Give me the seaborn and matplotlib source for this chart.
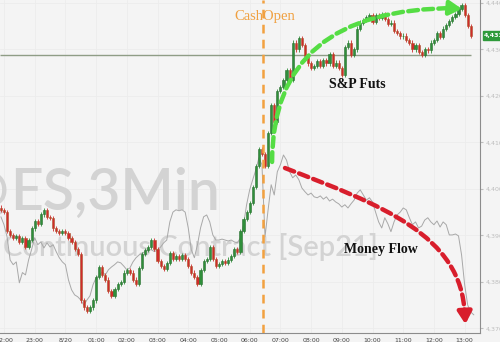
import numpy as np
import pandas as pd
import matplotlib
matplotlib.use("Agg")
import matplotlib.pyplot as plt
from matplotlib.path import Path
from matplotlib.patches import FancyArrowPatch
import seaborn as sns

# ---------------- data (hours after 22:00, 6-minute bars) ----------------
bar_start_hour = -0.1
bar_step_hour = 0.1
first_open = 4396.0
closes = [
    4395.5, 4395, 4391, 4390, 4389.5, 4389.8, 4388.5, 4389.5, 4387.5, 4389, 4391.5,
    4393, 4392.5, 4394.5, 4395.5, 4394, 4393.8, 4391.5, 4391, 4390.5, 4391,
    4390.5, 4389.5, 4388.5, 4387, 4386, 4376, 4374.5, 4373.8, 4374.5, 4376,
    4381, 4383.2, 4381.5, 4380.5, 4378, 4377, 4378.5, 4379.5, 4380, 4382,
    4382.5, 4382, 4380.5, 4379.5, 4383, 4386, 4386.8, 4387.5, 4389, 4387,
    4384.5, 4383.5, 4382.8, 4384, 4386.2, 4385, 4385.5, 4385, 4385.8, 4385,
    4383.5, 4382, 4381, 4379.5, 4382.5, 4384.5, 4385, 4387.5, 4385, 4383.5,
    4383.8, 4384.5, 4384, 4384.8, 4385.5, 4387, 4386.5, 4391, 4393.5, 4395,
    4397, 4400.5, 4405, 4408.5, 4407.5, 4405, 4412, 4418, 4414.5, 4421,
    4422, 4423.5, 4425.5, 4423.5, 4431.5, 4430, 4432.5, 4431, 4428.5, 4427,
    4426, 4426.5, 4427.5, 4426.5, 4427.8, 4427, 4429, 4426.5, 4427.2, 4426,
    4424.5, 4430.5, 4431.5, 4428.8, 4430, 4434.5, 4435.8, 4436.3, 4437, 4437.5,
    4436, 4437.5, 4436.8, 4437.6, 4436.5, 4435.5, 4435.8, 4434, 4433.5, 4432.8,
    4433, 4432, 4431.5, 4430, 4431, 4429.5, 4428.8, 4430, 4429.8, 4431.5,
    4432, 4433.5, 4432.7, 4434.5, 4435.3, 4436.2, 4437, 4437.6, 4438.8, 4439.5,
    4437.5, 4435, 4433,
]
# money flow line, plotted in price-equivalent units
money_flow = [
    4394, 4392.3, 4389.7, 4384.7, 4383.7, 4384.3, 4379.8, 4382, 4381.5, 4384.7, 4387,
    4389.5, 4388, 4388.6, 4387.3, 4388.4, 4387.5, 4388, 4386.5, 4385.2, 4384.3,
    4383.7, 4380.4, 4378.3, 4377.2, 4376.8, 4376.1, 4375, 4376.1, 4377, 4379.4,
    4380.9, 4381.3, 4382.2, 4381.5, 4382.6, 4383.2, 4383.7, 4384.3, 4384.1, 4383.4,
    4382.6, 4383, 4384.3, 4385.2, 4385.8, 4386.2, 4386.5, 4386.9, 4386.9, 4386.5,
    4386.9, 4387.5, 4388.4, 4389, 4392.9, 4395, 4395.5, 4395.3, 4395.5, 4395,
    4391.6, 4386.9, 4385.2, 4388, 4391.6, 4394, 4394.4, 4392.9, 4390.1, 4389,
    4389, 4389.2, 4389, 4388.8, 4389, 4388.6, 4388.4, 4389.5, 4392.3, 4396.6,
    4399.8, 4402, 4404.1, 4406.7, 4405.2, 4389.7, 4395.5, 4400.9, 4398.7, 4403.7,
    4405.2, 4407.3, 4406.2, 4403.7, 4402.4, 4403, 4402, 4400.2, 4399.4, 4398.7,
    4399.1, 4398.3, 4398.1, 4398.5, 4397.8, 4398.3, 4397.4, 4397.8, 4397.2, 4396.8,
    4396.1, 4396.6, 4395.9, 4396.8, 4397.6, 4399.1, 4399.8, 4398.7, 4397.6, 4398.1,
    4397.2, 4395, 4392.9, 4391.6, 4393.8, 4392.5, 4390.8, 4392.9, 4394.4, 4395,
    4395.9, 4395.5, 4393.8, 4392.3, 4392.9, 4391.6, 4392, 4393.3, 4393.8, 4392.9,
    4392.3, 4393.1, 4391.8, 4392.9, 4392.3, 4390.1, 4390.1, 4390.3, 4389.9, 4385.8,
    4379.4, 4375, 4373.5, 4372.9,
]
prior_close = 4428.8
cash_open_hour = 8.42
hour_ticks = list(range(16))
hour_labels = ["22:00", "23:00", "8/20", "01:00", "02:00", "03:00", "04:00", "05:00",
               "06:00", "07:00", "08:00", "09:00", "10:00", "11:00", "12:00", "13:00"]
price_ticks = [4370, 4380, 4390, 4400, 4410, 4420, 4430, 4440]
last_price_label = "4,433.00"

# ---------------- frame ----------------
bars = pd.DataFrame({
    "hour": bar_start_hour + bar_step_hour * np.arange(len(closes)),
    "close": closes,
})
bars["open"] = [first_open] + closes[:-1]
mf = pd.DataFrame({
    "hour": bar_start_hour + bar_step_hour * np.arange(len(money_flow)),
    "flow": money_flow,
})

sns.set_style("white")
plt.rcParams["font.family"] = ["DejaVu Sans"]

BG = "#f4f4f4"
fig = plt.figure(figsize=(5, 3.42), dpi=100, facecolor=BG)
ax = fig.add_axes([0, 9 / 342, 480 / 500, 333 / 342])
ax.set_facecolor(BG)
ax.set_xlim(-0.13, 15.5)
ax.set_ylim(4369.0, 4440.65)

# faint grid
for h in hour_ticks:
    ax.axvline(h, color="#ececec", lw=0.6, zorder=0)
for p in price_ticks:
    ax.axhline(p, color="#ececec", lw=0.6, zorder=0)

# watermarks
WM = "#d3d3d3"
ax.text(8 / 480, 1 - 210 / 333, "@", transform=ax.transAxes, ha="right", va="baseline",
        fontsize=41, color=WM, family="Lato", fontweight="semibold", zorder=0.5)
ax.text(10 / 480, 1 - 210 / 333, "ES,3Min", transform=ax.transAxes, ha="left", va="baseline",
        fontsize=41, color=WM, family="Lato", fontweight="semibold", zorder=0.5)
ax.text(3 / 480, 1 - 256 / 333, "Continuous Contract [Sep21]", transform=ax.transAxes,
        ha="left", va="baseline", fontsize=21, color=WM, family="Lato",
        fontweight="semibold", zorder=0.5)

# prior close reference line
ax.hlines(prior_close, -0.13, 15.2, color="#8f9d86", lw=1.0, zorder=1)

# money flow line
sns.lineplot(data=mf, x="hour", y="flow", ax=ax, color="#a8a8a8", lw=0.7, zorder=2)

# candles
up = bars["close"] >= bars["open"]
body_lo = np.minimum(bars["open"], bars["close"])
body_h = np.maximum((bars["close"] - bars["open"]).abs(), 0.2)
colors = np.where(up, "#2f8f3a", "#d12a2a")
wick = 0.45
ax.vlines(bars["hour"], body_lo - wick, body_lo + body_h + wick, colors=colors, lw=0.6, zorder=3)
ax.bar(bars["hour"], body_h, bottom=body_lo, width=0.07, color=colors,
       edgecolor=np.where(up, "#2a6e30", "#a8552a"), linewidth=0.4, zorder=4)

# cash open line + label
ax.axvline(cash_open_hour, color="#f2a140", lw=1.8, ls=(0, (3.5, 2.5)), zorder=5)
ax.text(cash_open_hour + 0.08, 4437.0, "CashOpen", ha="center", va="center",
        fontsize=10.5, color="#f0a040", family="Liberation Serif", zorder=6)

# green curved arrow
g = "#55dd44"
gpath = Path([(8.73, 4405.8), (8.73, 4438.9), (14.7, 4438.9)],
             [Path.MOVETO, Path.CURVE3, Path.CURVE3])
ax.add_patch(FancyArrowPatch(path=gpath, arrowstyle="-", color=g, lw=3.2,
                             ls=(0, (2.2, 1.2)), transform=ax.transData, zorder=7))
ax.annotate("", xy=(15.0, 4438.7), xytext=(14.6, 4438.9),
            arrowprops=dict(arrowstyle="-|>,head_length=0.6,head_width=0.35",
                            color=g, lw=3.2, mutation_scale=12), zorder=7)

# red curved arrow
r = "#d81e2c"
rpath = Path([(9.15, 4404.5), (12.25, 4396.6), (14.92, 4390.1), (15.0, 4373.0)],
             [Path.MOVETO, Path.CURVE4, Path.CURVE4, Path.CURVE4])
ax.add_patch(FancyArrowPatch(path=rpath, arrowstyle="-", color=r, lw=3.2,
                             ls=(0, (2.2, 1.2)), transform=ax.transData, zorder=7))
ax.annotate("", xy=(15.03, 4370.3), xytext=(15.0, 4374.0),
            arrowprops=dict(arrowstyle="-|>,head_length=0.6,head_width=0.35",
                            color=r, lw=3.2, mutation_scale=12), zorder=7)

# labels
ax.text(11.5, 4422.4, "S&P Futs", ha="center", va="center", fontsize=10,
        fontweight="bold", family="Liberation Serif", color="#111111", zorder=8)
ax.text(12.28, 4387.0, "Money Flow", ha="center", va="center", fontsize=10,
        fontweight="bold", family="Liberation Serif", color="#111111", zorder=8)

# axes styling
for s in ["left", "top"]:
    ax.spines[s].set_visible(False)
ax.spines["right"].set_color("#8c8c8c")
ax.spines["bottom"].set_color("#8c8c8c")
ax.spines["right"].set_linewidth(0.8)
ax.spines["bottom"].set_linewidth(0.8)
ax.yaxis.tick_right()
ax.set_yticks(price_ticks)
ax.set_yticklabels([f"{p:,.2f}" for p in price_ticks])
ax.set_xticks(hour_ticks)
ax.set_xticklabels(hour_labels)
ax.tick_params(axis="y", labelsize=4.5, colors="#bdbdbd", length=2, pad=2)
ax.tick_params(axis="x", labelsize=4.5, labelcolor="#444444", color="#8c8c8c", length=2, pad=1.5)
ax.set_xlabel("")
ax.set_ylabel("")

# last price tag
ax.annotate(last_price_label, xy=(1.0, closes[-1]), xycoords=("axes fraction", "data"),
            xytext=(3, 0), textcoords="offset points", ha="left", va="center",
            fontsize=4.5, color="white", fontweight="bold",
            bbox=dict(boxstyle="square,pad=0.25", fc="#2e9a3a", ec="#2e9a3a"),
            annotation_clip=False, zorder=9)

fig.savefig("out.png", dpi=100, facecolor=BG)
